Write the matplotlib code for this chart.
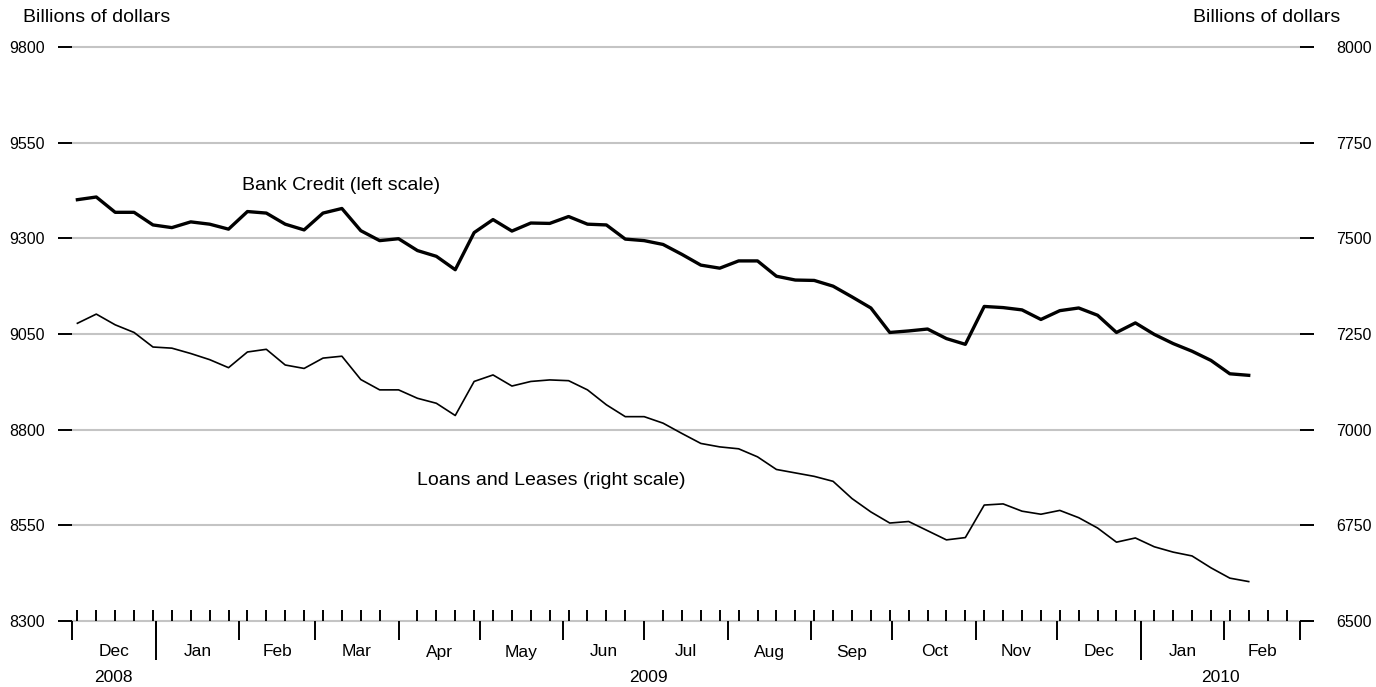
import matplotlib
matplotlib.use("Agg")
import matplotlib.pyplot as plt
import matplotlib.dates as mdates
import pandas as pd
import datetime as dt

plt.rcParams['font.family'] = ['Liberation Sans', 'DejaVu Sans']

# Weekly observations (Wednesdays)
weeks = pd.date_range('2008-12-03', periods=63, freq='7D')

bank_credit = [9401, 9408, 9368, 9368, 9335, 9328, 9343, 9337, 9324, 9370,
               9366, 9337, 9322, 9366, 9378, 9320, 9294, 9299, 9268, 9253,
               9218, 9315, 9349, 9319, 9340, 9339, 9357, 9337, 9335, 9298,
               9294, 9284, 9258, 9230, 9222, 9241, 9241, 9201, 9191, 9190,
               9175, 9147, 9118, 9054, 9058, 9063, 9038, 9023, 9122, 9119,
               9113, 9088, 9111, 9118, 9099, 9054, 9079, 9049, 9025, 9005,
               8981, 8946, 8942]

loans_leases = [7278, 7302, 7274, 7254, 7216, 7213, 7199, 7183, 7162, 7203,
                7210, 7169, 7160, 7187, 7192, 7131, 7104, 7104, 7082, 7069,
                7037, 7126, 7143, 7114, 7126, 7130, 7128, 7104, 7065, 7034,
                7034, 7017, 6990, 6964, 6955, 6950, 6929, 6896, 6887, 6878,
                6865, 6820, 6785, 6756, 6760, 6736, 6712, 6718, 6803, 6806,
                6787, 6779, 6789, 6770, 6743, 6706, 6717, 6694, 6680, 6670,
                6639, 6612, 6603]

left_ticks = [8300, 8550, 8800, 9050, 9300, 9550, 9800]
right_ticks = [6500, 6750, 7000, 7250, 7500, 7750, 8000]
month_names = ['Dec', 'Jan', 'Feb', 'Mar', 'Apr', 'May', 'Jun', 'Jul', 'Aug',
               'Sep', 'Oct', 'Nov', 'Dec', 'Jan', 'Feb']
years = ['2008', '2009', '2010']

x_start = dt.datetime(2008, 12, 1)
x_end = dt.datetime(2010, 3, 1)

fig = plt.figure(figsize=(13.76, 6.87), dpi=100)
ax = fig.add_axes([72/1376, 1-621/687, (1300-72)/1376, (621-47)/687])
ax2 = ax.twinx()

ax.plot(weeks, bank_credit, color='black', lw=2.4, zorder=3)
ax2.plot(weeks, loans_leases, color='black', lw=1.2, zorder=3)

ax.set_xlim(x_start, x_end)
ax.set_ylim(8300, 9800)
ax2.set_ylim(6500, 8000)
ax.set_yticks(left_ticks)
ax2.set_yticks(right_ticks)
for yv in left_ticks:
    ax.axhline(yv, color='#c4c4c4', lw=1.5, zorder=0, clip_on=False)

for a in (ax, ax2):
    for s in a.spines.values():
        s.set_visible(False)

ax.tick_params(axis='y', direction='out', length=10, width=1.4, pad=9.5,
               labelsize=11.5, colors='black')
ax2.tick_params(axis='y', direction='out', length=10, width=1.4, pad=16,
                labelsize=11.5, colors='black')

# x axis: weekly minor ticks inward, month boundaries outward
ax.xaxis.set_major_locator(mdates.MonthLocator())
ax.xaxis.set_minor_locator(mdates.WeekdayLocator(byweekday=mdates.WE))
ax.xaxis.set_major_formatter(plt.NullFormatter())
ax.xaxis.set_minor_formatter(plt.NullFormatter())
ax.tick_params(axis='x', which='major', direction='out', length=14, width=1.4)
ax.tick_params(axis='x', which='minor', direction='in', length=8, width=1.4)

trans = ax.get_xaxis_transform()
# year boundary lines
for yb in [dt.datetime(2009, 1, 1), dt.datetime(2010, 1, 1)]:
    ax.plot([yb, yb], [0, -39/574], transform=trans, color='black', lw=1.4,
            clip_on=False, solid_capstyle='butt')

# month labels
months = pd.date_range('2008-12-01', periods=len(month_names)+1, freq='MS')
for i, name in enumerate(month_names):
    mid = months[i] + (months[i+1] - months[i]) / 2
    ax.text(mid, -31/574, name, transform=trans, ha='center', va='center',
            fontsize=12.5)

# year labels
year_bounds = [(x_start, dt.datetime(2009, 1, 1)),
               (dt.datetime(2009, 1, 1), dt.datetime(2010, 1, 1)),
               (dt.datetime(2010, 1, 1), x_end)]
for yl, (a0, a1) in zip(years, year_bounds):
    mid = a0 + (a1 - a0) / 2
    ax.text(mid, -57/574, yl, transform=trans, ha='center', va='center',
            fontsize=12.5)

# series labels
ax.text(dt.datetime(2009, 2, 2), 9438, 'Bank Credit (left scale)',
        ha='left', va='center', fontsize=14)
ax2.text(dt.datetime(2009, 4, 8), 6868, 'Loans and Leases (right scale)',
         ha='left', va='center', fontsize=14)

fig.text(23/1376, 1-18/687, 'Billions of dollars', ha='left', va='center', fontsize=14)
fig.text(1340/1376, 1-18/687, 'Billions of dollars', ha='right', va='center', fontsize=14)

fig.savefig('out.png', dpi=100)
